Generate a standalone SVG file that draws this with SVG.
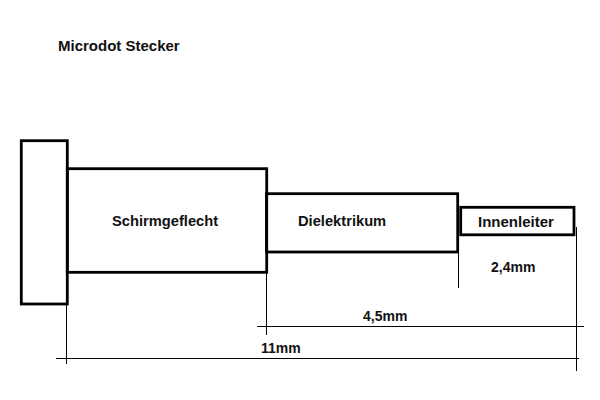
<svg xmlns="http://www.w3.org/2000/svg" width="600" height="400" viewBox="0 0 600 400">
<style>
.b{fill:none;stroke:#000;stroke-width:2.8}
.c{fill:none;stroke:#000;stroke-width:1}
text{font-family:"Liberation Sans",Arial,sans-serif;font-weight:bold;font-size:14px;fill:#111}
.n{font-size:14.7px}
</style>
<rect width="600" height="400" fill="#fff"/>
<text id="title" x="58" y="50.5" style="font-size:15px">Microdot Stecker</text>
<g id="connectors">
<path class="c" d="M66.5 305V364M266.5 272V335M458.5 252V288M576.5 227V371M257 326.5H584M56 358.5H579"/>
</g>
<g id="flansch"><rect class="b" x="21.3" y="140.7" width="46" height="163.3"/></g>
<g id="schirmgeflecht"><rect class="b" x="67.3" y="168.7" width="199.4" height="103.6"/><text class="n" x="112" y="226">Schirmgeflecht</text></g>
<g id="dielektrikum"><rect class="b" x="266.5" y="193.7" width="191.2" height="58.3"/><text class="n" x="298" y="225.5">Dielektrikum</text></g>
<g id="innenleiter"><rect class="b" x="460.7" y="207.3" width="113.3" height="27.5"/><text x="478" y="227" style="font-size:15px">Innenleiter</text></g>
<text id="d1" x="491" y="272">2,4mm</text>
<text id="d2" x="363" y="321">4,5mm</text>
<text id="d3" x="261" y="353">11mm</text>
</svg>
